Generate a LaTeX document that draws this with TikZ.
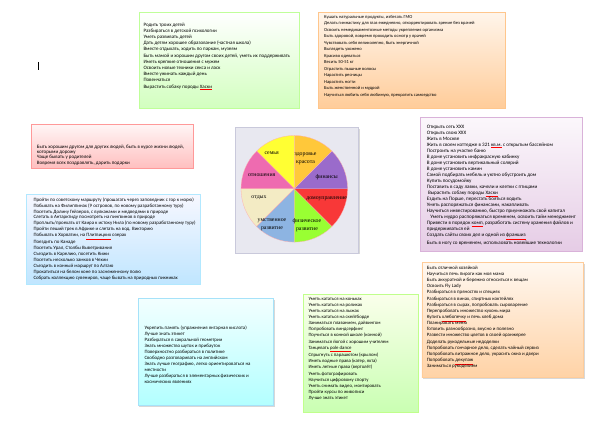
\documentclass[tikz,border=0pt]{standalone}
\usepackage{fontspec}
\setmainfont{Carlito}
\newfontfamily\wheelfont{Liberation Serif}
\newcommand\spell[1]{\textcolor{red}{\underline{\textcolor{black}{#1}}}}
\usetikzlibrary{shadows}
\definecolor{wyel}{HTML}{FFFF33}
\definecolor{wora}{HTML}{FFC83A}
\definecolor{wpur}{HTML}{9A6BCB}
\definecolor{wred}{HTML}{F83838}
\definecolor{wgrn}{HTML}{99FF33}
\definecolor{wblu}{HTML}{8DB4E2}
\definecolor{wcre}{HTML}{F3EBC4}
\definecolor{wpnk}{HTML}{EE6BB0}
\tikzset{
  goalbox/.style={anchor=north west, inner sep=0pt, line width=0.5pt,
    drop shadow={shadow xshift=1.2pt, shadow yshift=-1.2pt, fill=black!25, opacity=0.6}},
  goaltext/.style={anchor=north west, inner sep=0pt, align=left},
  wlabel/.style={font=\wheelfont\fontsize{5.8}{7.5}\selectfont, align=center, inner sep=0pt}
}
\begin{document}
\begin{tikzpicture}[x=1pt,y=-1pt]
\useasboundingbox (0,0) rectangle (600,425);
\fill[white] (0,0) rectangle (600,425);
\draw[line width=0.4pt] (38,62) -- (38,70);

% box 1
\node[goalbox, minimum width=160pt, minimum height=96pt, top color=white, bottom color=green!60!lime!25, draw=green!50!lime!40] (b1) at (139,12) {};
\node[goaltext, font=\fontsize{5}{6.2}\selectfont] (t1) at (143.3,22.5) {Родить троих детей\\
Разбираться в детской психологии\\
Уметь развивать детей\\
Дать детям хорошее образование (частная школа)\\
Вместе отдыхать, ходить по паркам, музеям\\
Быть мамой и хорошим другом своих детей, уметь их поддерживать\\
Иметь крепкие отношения с мужем\\
Освоить новые техники секса и ласк\\
Вместе ужинать каждый день\\
Повенчаться\\
Вырастить собаку породы \spell{Хаски}};

% box 2
\node[goalbox, minimum width=187pt, minimum height=96pt, top color=orange!8, bottom color=orange!40, draw=orange!45] (b2) at (318,12) {};
\node[goaltext, font=\fontsize{4.55}{6.53}\selectfont] (t2) at (324,14.8) {Кушать натуральные продукты, избегать ГМО\\
Делать гимнастику для глаз ежедневно, откорректировать зрение без врачей\\
Освоить немедикаментозные методы укрепления организма\\
Быть здоровой, вовремя проходить осмотр у врачей\\
Чувствовать себя великолепно, быть энергичной\\
Выглядеть ухожено\\
Красиво одеваться\\
Весить 50-51 кг\\
Отрастить пышные волосы\\
Нарастить ресницы\\
Нарастить ногти\\
Быть женственной и мудрой\\
Научиться любить себя любимую, прекратить самоедство};

% box 3
\node[goalbox, minimum width=162pt, minimum height=43.4pt, top color=red!4, bottom color=red!25, draw=red!40] (b3) at (31,124.3) {};
\node[goaltext, font=\fontsize{5}{5.4}\selectfont] (t3) at (36.7,144.5) {Быть хорошим другом для других людей, быть в курсе жизни людей,\\
которыми дорожу\\
Чаще бывать у родителей\\
Вовремя всех поздравлять, дарить подарки};

% wheel
\node[goalbox, minimum width=123.3pt, minimum height=125.4pt, fill=blue!20!gray!15, draw=blue!20!gray!35] (wbg) at (235,127.3) {};
\coordinate (wc) at (294.3,188.8);
\begin{scope}[shift={(wc)}, y=1pt, draw=red!30!white, line width=0.3pt]
  \filldraw[fill=wora] (0,0) -- (90:53.3) arc (90:45:53.3) -- cycle;
  \filldraw[fill=wyel] (0,0) -- (90:53.3) arc (90:135:53.3) -- cycle;
  \filldraw[fill=wpnk] (0,0) -- (135:53.3) arc (135:180:53.3) -- cycle;
  \filldraw[fill=wcre] (0,0) -- (180:53.3) arc (180:225:53.3) -- cycle;
  \filldraw[fill=wblu] (0,0) -- (225:53.3) arc (225:270:53.3) -- cycle;
  \filldraw[fill=wgrn] (0,0) -- (270:53.3) arc (270:315:53.3) -- cycle;
  \filldraw[fill=wred] (0,0) -- (315:53.3) arc (315:360:53.3) -- cycle;
  \filldraw[fill=wpur] (0,0) -- (0:53.3) arc (0:45:53.3) -- cycle;
\end{scope}
\node[wlabel] (l1) at (271.7,153.3) {семья};
\node[wlabel] (l2) at (305.5,159) {здоровье\\красота};
\node[wlabel] (l3) at (326.7,177.3) {финансы};
\node[wlabel] (l4) at (326.7,199) {домоуправление};
\node[wlabel] (l5) at (307,225) {физическое\\развитие};
\node[wlabel] (l6) at (272,225) {умственное\\развитие};
\node[wlabel] (l7) at (259,197.7) {отдых};
\node[wlabel] (l8) at (261.7,175) {отношения};

% box 4
\node[goalbox, minimum width=162pt, minimum height=134pt, top color=violet!3, bottom color=violet!20, draw=violet!30] (b4) at (420,117) {};
\node[goaltext, font=\fontsize{5.1}{6.05}\selectfont] (t4) at (426.7,124.5) {Открыть сеть XXX\\
Открыть свою XXX\\
Жить в Москве\\
Жить в своем коттедже в 321 \spell{кв.м.} с открытым бассейном\\
Построить на участке баню\\
В доме установить инфракрасную кабинку\\
В доме установить вертикальный солярий\\
В доме установить камин\\
Самой подбирать мебель и уютно обустроить дом\\
Купить посудомойку\\
Поставить в саду лавки, качели и клетки с птицами\\
\ Вырастить собаку породы \spell{Хаски}\\
Ездить на Порше, перестать бояться водить\\
Уметь распоряжаться финансами, накапливать\\
Научиться инвестированию, быстро приумножать свой капитал\\
\ \ \ Уметь мудро распоряжаться временем, освоить тайм менеджмент\\
Привести в порядок \spell{комп}, разработать систему хранения файлов и\\
придерживаться ей\\
Создать сайты своих дел и одной из \spell{франшиз}\\
Быть в ногу со временем, использовать новейшие технологии};

% box 5
\node[goalbox, minimum width=174pt, minimum height=90pt, top color=blue!3, bottom color=blue!40!cyan!25, draw=blue!30!cyan!30] (b5) at (26,194) {};
\node[goaltext, font=\fontsize{4.9}{5.9}\selectfont] (t5) at (33.3,197.5) {Пройти по советскому маршруту (прошагать через заповедник с гор к морю)\\
Побывать на Филиппинах (9 островов, по новому разработанному туру)\\
Посетить Долину Гейзеров, с вулканами и медведями в природе\\
Слетать в Антарктиду посмотреть на пингвинов в природе\\
Проплыть/проехать от Каира к истоку Нила (по новому разработанному туру)\\
Пройти пеший трек в Африке и слетать на вод. Викторию\\
Побывать в Хорватии, на \spell{Плитвицких} озерах\\
Поездить по Канаде\\
Посетить Урал, Столбы Выветривания\\
Съездить в Карелию, посетить Кижи\\
Посетить несколько замков в Чехии\\
Съездить в конный маршрут по Алтаю\\
Прокатиться на белом коне по заснеженному полю\\
Собрать коллекцию сувениров, чаще бывать на природных пикниках};

% box 6
\node[goalbox, minimum width=135.3pt, minimum height=107pt, top color=cyan!5, bottom color=cyan!30, draw=cyan!35] (b6) at (138,298.3) {};
\node[goaltext, font=\fontsize{4.9}{6}\selectfont] (t6) at (144.3,325.8) {Укрепить память (упражнения янтарная кислота)\\
Лучше знать этикет\\
Разбираться в сакральной геометрии\\
Знать множество шуток и прибауток\\
Поверхностно разбираться в политике\\
Свободно разговаривать на английском\\
Знать лучше географию, легко ориентироваться на\\
местности\\
Лучше разбираться в элементарных физических и\\
космических явлениях};

% box 7
\node[goalbox, minimum width=114.4pt, minimum height=117.4pt, top color=lime!8, bottom color=lime!40!green!30, draw=lime!60!green!45] (b7) at (303.3,294.3) {};
\node[goaltext, font=\fontsize{4.8}{6.15}\selectfont] (t7) at (308.3,296.8) {Уметь кататься на коньках\\
Уметь кататься на роликах\\
Уметь кататься на лыжах\\
Уметь кататься на скейтборде\\
Заниматься плаванием, дайвингом\\
Попробовать виндсерфинг\\
Поучиться в конной школе (конной)\\
Заниматься йогой с хорошим учителем\\
Танцевать \spell{pole dance}\\
Спрыгнуть с парашютом (крылом)\\
Иметь водные права (катер, яхта)\\
Иметь летные права (вертолёт)\\
Уметь фотографировать\\
Научиться цифровому спорту\\
Уметь снимать видео, монтировать\\
Пройти курсы по живописи\\
Лучше знать этикет};

% box 8
\node[goalbox, minimum width=161.6pt, minimum height=115pt, top color=orange!6, bottom color=orange!35, draw=orange!40] (b8) at (421.7,262.3) {};
\node[goaltext, font=\fontsize{4.9}{6.15}\selectfont] (t8) at (426.7,265.8) {Быть отличной хозяйкой\\
Научиться печь пироги как моя мама\\
Быть аккуратной и бережно относиться к вещам\\
Освоить Fly Lady\\
Разбираться в пряностях и специях\\
Разбираться в винах, спиртных коктейлях\\
Разбираться в сырах, попробовать сыроварение\\
Перепробовать множество кухонь мира\\
Купить \spell{хлебопечку} и печь хлеб дома\\
Планировать меню\\
Готовить разнообразно, вкусно и полезно\\
Развести множество цветов в своей оранжерее\\
Доделать рукодельные недоделки\\
Попробовать гончарное дело, сделать чайный сервиз\\
Попробовать витражное дело, украсить окна и двери\\
Попробовать \spell{декупаж}\\
Заниматься рукоделием};
\end{tikzpicture}
\end{document}
